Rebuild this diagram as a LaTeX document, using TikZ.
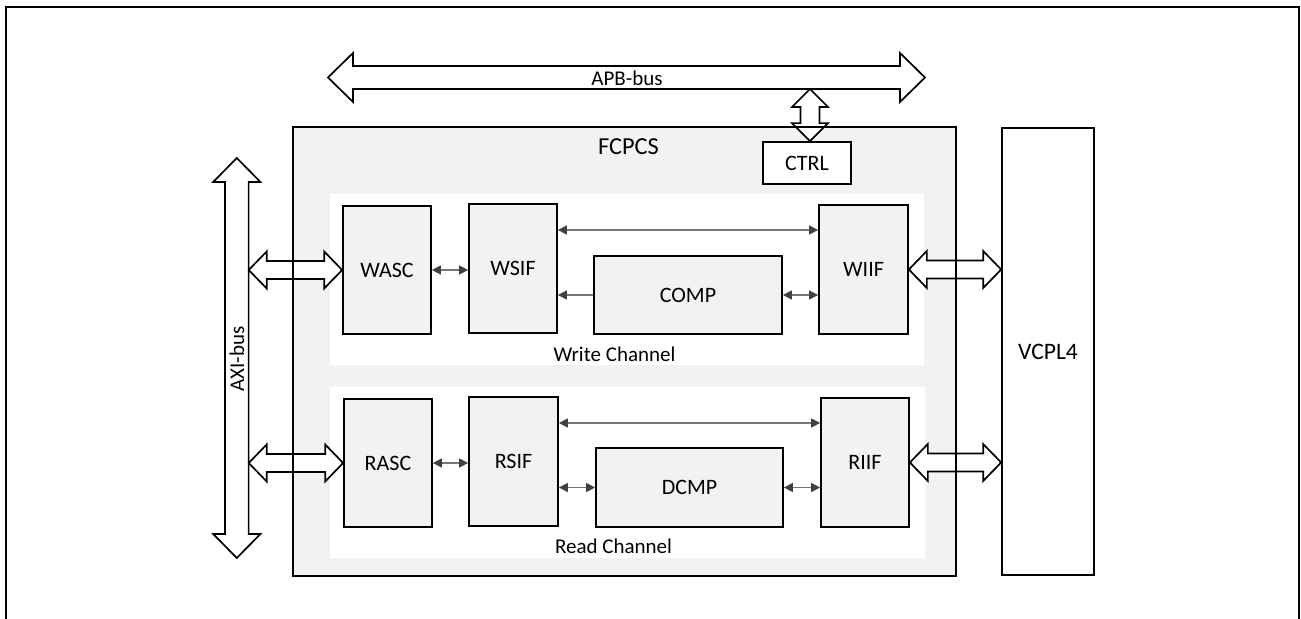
\documentclass[tikz,border=0pt]{standalone}
\usepackage{fontspec}
\setmainfont{Carlito}
\usepackage{xcolor}
\definecolor{FillGray}{RGB}{242,242,242}
\definecolor{LineGray}{RGB}{118,118,118}
\definecolor{TipGray}{RGB}{64,64,64}
\usepackage{tikz}
\usetikzlibrary{arrows.meta, positioning, calc}
\tikzset{
  % Outer frame
  outline/.style={line width=1pt, black},
  % Blocks
  blk/.style={
    rectangle, draw=black, line width=0.85pt,
    fill=FillGray, inner sep=0pt,
    font=\fontsize{11}{13}\selectfont
  },
  blk white/.style={blk, fill=white},
  chan/.style={rectangle, fill=white, inner sep=0pt},
  % Text labels
  lbl/.style={font=\fontsize{10.5}{12}\selectfont, inner sep=0pt},
  % Small arrows
  sarr/.style={{Triangle[length=4.5pt,width=4.5pt,color=TipGray]}-{Triangle[length=4.5pt,width=4.5pt,color=TipGray]},
    draw=LineGray, line width=0.55pt},
  sarr to/.style={-{Triangle[length=4.5pt,width=4.5pt,color=TipGray]},
    draw=LineGray, line width=0.55pt},
  % Block arrows: shaft half width, head half width, head length
  bus/.style n args={3}{
    draw=black, line width=0.85pt, fill=white,
    to path={let \p1=(\tikztostart), \p2=(\tikztotarget),
      \n1={atan2(\y2-\y1,\x2-\x1)} in
      (\p1) -- ($(\p1)+(\n1:#3)+(\n1+90:#2)$) -- ($(\p1)+(\n1:#3)+(\n1+90:#1)$)
      -- ($(\p2)+(\n1+180:#3)+(\n1+90:#1)$) -- ($(\p2)+(\n1+180:#3)+(\n1+90:#2)$)
      -- (\p2)
      -- ($(\p2)+(\n1+180:#3)+(\n1-90:#2)$) -- ($(\p2)+(\n1+180:#3)+(\n1-90:#1)$)
      -- ($(\p1)+(\n1:#3)+(\n1-90:#1)$) -- ($(\p1)+(\n1:#3)+(\n1-90:#2)$) -- cycle}
  },
  apb bus/.style={bus={5.75pt}{12.25pt}{12.5pt}},
  axi bus/.style={bus={5.9pt}{11.8pt}{12pt}},
  ctrl bus/.style={bus={4.75pt}{9pt}{9pt}},
  port bus/.style={bus={4.5pt}{9.25pt}{9pt}},
}

\begin{document}
\begin{tikzpicture}[x=0.5pt, y=-0.5pt]
  \useasboundingbox (0,0) rectangle (1301,619);
  \draw[outline] (6,619) -- (6,7) -- (1299,7) -- (1299,619);

  % Main block and channels
  \node[blk, draw=none, minimum width=330.5pt, minimum height=223.5pt] (fcpcs) at (624.5,351.5) {};
  \node[chan, minimum width=297pt, minimum height=85.5pt] (wch) at (627,279.5) {};
  \node[chan, minimum width=297.5pt, minimum height=85.5pt] (rch) at (627.5,472.5) {};

  \node[blk white, minimum width=44pt, minimum height=21pt] (ctrl) at (807,163) {CTRL};

  % Write channel
  \node[blk, minimum width=44pt, minimum height=64pt] (wasc) at (387,270) {WASC};
  \node[blk, minimum width=44pt, minimum height=64.5pt] (wsif) at (513,268.5) {WSIF};
  \node[blk, minimum width=94pt, minimum height=39pt] (comp) at (688,295) {COMP};
  \node[blk, minimum width=44.5pt, minimum height=64.5pt] (wiif) at (863.5,269.5) {WIIF};

  % Read channel
  \node[blk, minimum width=44pt, minimum height=64pt] (rasc) at (388,463) {RASC};
  \node[blk, minimum width=44.5pt, minimum height=64.5pt] (rsif) at (513.5,461.5) {RSIF};
  \node[blk, minimum width=93.5pt, minimum height=39.5pt] (dcmp) at (689.5,487.5) {DCMP};
  \node[blk, minimum width=44pt, minimum height=64.5pt] (riif) at (865,462.5) {RIIF};

  \node[blk white, minimum width=46pt, minimum height=223.5pt,
    font=\fontsize{11.8}{14}\selectfont] (vcpl) at (1048,351.5) {VCPL4};

  % Internal links
  \draw[sarr] (wasc.east) -- (wsif.west |- wasc.east);
  \draw[sarr] (wsif.east |- 0,230) -- (wiif.west |- 0,230);
  \draw[sarr to] (comp.west) -- (wsif.east |- comp.west);
  \draw[sarr] (comp.east) -- (wiif.west |- comp.east);
  \draw[sarr] (rasc.east) -- (rsif.west |- rasc.east);
  \draw[sarr] (rsif.east |- 0,423) -- (riif.west |- 0,423);
  \draw[sarr] (rsif.east |- dcmp.west) -- (dcmp.west);
  \draw[sarr] (dcmp.east) -- (riif.west |- dcmp.east);

  % Buses
  \coordinate (apbL) at (328,77.5);
  \coordinate (apbR) at (925,77.5);
  \coordinate (apbB) at (810,89);
  \coordinate (axiT) at (236.8,158);
  \coordinate (axiB) at (236.8,558);
  \coordinate (axiE) at (248.7,0);

  \draw[apb bus] (apbL) to (apbR);
  \draw[ctrl bus] (apbB) to (apbB |- ctrl.north);
  \draw[axi bus] (axiT) to (axiB);
  \draw[port bus] (axiE |- wasc.west) to (wasc.west);
  \draw[port bus] (axiE |- rasc.west) to (rasc.west);
  \draw[port bus] (wiif.east) to (vcpl.west |- wiif.east);
  \draw[port bus] (riif.east) to (vcpl.west |- riif.east);

  \draw[line width=0.85pt] (fcpcs.north west) rectangle (fcpcs.south east);

  % Labels
  \node[lbl, font=\fontsize{12.2}{14}\selectfont] (fcpcsl) at (628.5,147) {FCPCS};
  \node[lbl] (wchl) at (614.5,354) {Write Channel};
  \node[lbl] (rchl) at (613.5,546) {Read Channel};
  \node[lbl] (apbl) at (627,78) {APB-bus};
  \node[lbl, rotate=90] (axil) at (237,359) {AXI-bus};
\end{tikzpicture}
\end{document}
